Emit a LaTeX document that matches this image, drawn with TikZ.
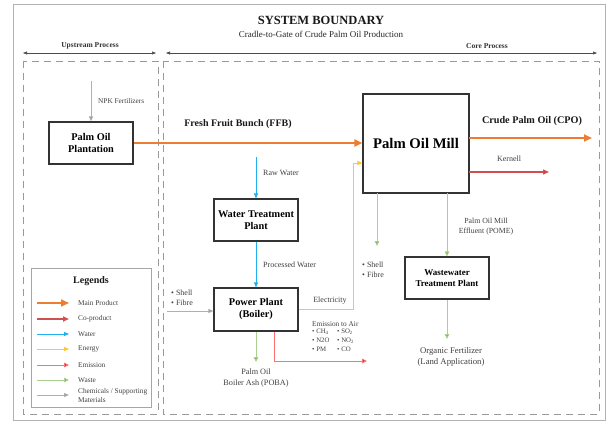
\documentclass[tikz,border=0pt]{standalone}
\usepackage{fontspec}
\setmainfont{Liberation Serif}
\usetikzlibrary{arrows.meta}
\definecolor{mainc}{HTML}{ED7D31}
\definecolor{coc}{HTML}{C00000}
\definecolor{coline}{HTML}{D05050}
\definecolor{waterc}{HTML}{1FB0F0}
\definecolor{energyc}{HTML}{FFC000}
\definecolor{energyl}{HTML}{FFC830}
\definecolor{emisc}{HTML}{FF0000}
\definecolor{emisl}{HTML}{FF7070}
\definecolor{wastec}{HTML}{70AD47}
\definecolor{wastel}{HTML}{A9D18E}
\definecolor{chemc}{HTML}{808080}
\definecolor{cheml}{HTML}{B0B0B0}
\definecolor{boxc}{HTML}{333333}
\definecolor{txtc}{HTML}{404040}
\tikzset{
  procbox/.style={draw=boxc, line width=1.1pt, rectangle, align=center, font=\bfseries\fontsize{10.3}{12}\selectfont, text=black, inner sep=0pt},
  lbl/.style={font=\fontsize{8}{9.5}\selectfont, text=txtc, inner sep=0pt, align=center},
  leglbl/.style={font=\fontsize{7.3}{8.5}\selectfont, text=txtc, inner sep=0pt, anchor=west, align=left},
  mainarr/.style={draw=mainc, line width=2.2pt, -{Triangle[length=8pt,width=7pt,fill=mainc]}},
  coarr/.style={draw=coline, line width=1.3pt, -{Triangle[length=6pt,width=5pt,fill=coc]}},
  waterarr/.style={draw=waterc, line width=0.8pt, -{Triangle[length=5pt,width=4pt]}},
  energyarr/.style={draw=energyl, line width=1pt, -{Triangle[length=5pt,width=4pt,fill=energyc]}},
  emisarr/.style={draw=emisl, line width=0.9pt, -{Triangle[length=5pt,width=4.5pt,fill=emisc]}},
  wastearr/.style={draw=wastel, line width=0.9pt, -{Triangle[length=5pt,width=4.5pt,fill=wastec]}},
  chemarr/.style={draw=cheml, line width=0.9pt, -{Triangle[length=5pt,width=4pt,fill=chemc]}},
  boundary/.style={draw=gray!80, line width=0.8pt, dash pattern=on 7pt off 5pt},
  scopearr/.style={draw=black!70, line width=0.6pt, {Triangle[length=4pt,width=3pt]}-{Triangle[length=4pt,width=3pt]}}
}
\begin{document}
\begin{tikzpicture}[x=1pt,y=-1pt]
\useasboundingbox (0,0) rectangle (612,422);
\fill[white] (0,0) rectangle (612,422);
\draw[gray!60, line width=1pt] (13,5) rectangle (605,420);

% titles
\node[font=\bfseries\fontsize{12.5}{14}\selectfont, text=black!90] (title) at (321,20) {SYSTEM BOUNDARY};
\node[font=\fontsize{9}{11}\selectfont, text=black!85] (subtitle) at (321,34) {Cradle-to-Gate of Crude Palm Oil Production};

% scope arrows
\coordinate (ua) at (23,53); \coordinate (ub) at (156,53);
\coordinate (ca) at (166,53); \coordinate (cb) at (597,53);
\draw[scopearr] (ua) -- (ub);
\draw[scopearr] (ca) -- (cb);
\node[font=\bfseries\fontsize{7.5}{9}\selectfont, text=black!80] (upl) at (90,46) {Upstream Process};
\node[font=\bfseries\fontsize{7.5}{9}\selectfont, text=black!80] (col) at (487,46) {Core Process};

% boundaries
\draw[boundary] (23,61) rectangle (158,414);
\draw[boundary] (163,61) rectangle (599,414);

% process boxes
\node[procbox, minimum width=84pt, minimum height=42pt] (plant) at (91,143) {Palm Oil\\Plantation};
\node[procbox, minimum width=106pt, minimum height=99pt, font=\bfseries\fontsize{14.7}{17}\selectfont] (mill) at (416,143.5) {Palm Oil Mill};
\node[procbox, minimum width=84pt, minimum height=42pt] (wtp) at (256,220) {Water Treatment\\Plant};
\node[procbox, minimum width=84pt, minimum height=43pt] (pp) at (256,309.5) {Power Plant\\(Boiler)};
\node[procbox, minimum width=84pt, minimum height=42pt, font=\bfseries\fontsize{9}{11}\selectfont] (wwtp) at (447,278) {Wastewater\\Treatment Plant};

% NPK
\coordinate (npk) at (91,81);
\draw[chemarr] (npk) -- (plant.north);
\node[lbl, anchor=west, font=\fontsize{7.3}{8.5}\selectfont] (npkl) at (98,101) {NPK Fertilizers};

% FFB
\draw[mainarr] (plant.east) -- (mill.west |- plant.east);
\node[font=\bfseries\fontsize{10}{12}\selectfont, text=black!90] (ffbl) at (238,124) {Fresh Fruit Bunch (FFB)};

% CPO
\coordinate (cpos) at (469,138); \coordinate (cpoe) at (592,138);
\draw[mainarr] (cpos) -- (cpoe);
\node[font=\bfseries\fontsize{10.2}{12}\selectfont, text=black!90] (cpol) at (532,121) {Crude Palm Oil (CPO)};

% Kernell
\coordinate (kers) at (469,172); \coordinate (kere) at (549,172);
\draw[coarr] (kers) -- (kere);
\node[lbl] (kerl) at (509,159) {Kernell};

% water
\coordinate (rw) at (256,157);
\draw[waterarr] (rw) -- (wtp.north);
\node[lbl, anchor=west] (rwl) at (263,173) {Raw Water};
\draw[waterarr] (wtp.south) -- (pp.north);
\node[lbl, anchor=west] (pwl) at (263,265) {Processed Water};

% electricity
\coordinate (el1) at (353,309); \coordinate (el2) at (353,163);
\draw[energyarr] (pp.east |- el1) -- (el1) -- (el2) -- (mill.west |- el2);
\node[lbl] (ell) at (330,301) {Electricity};

% shell fibre to power plant
\coordinate (sf) at (167,311);
\draw[chemarr] (sf) -- (pp.west |- sf);
\node[lbl, anchor=west, align=left] (sfl) at (171,298) {• Shell\\• Fibre};

% POBA
\coordinate (poba) at (256,362);
\draw[wastearr] (pp.south) -- (poba);
\node[lbl, font=\fontsize{8.2}{10.5}\selectfont] (pobal) at (256,378) {Palm Oil\\Boiler Ash (POBA)};

% emission
\coordinate (em1) at (274,361); \coordinate (em2) at (367,361);
\draw[emisarr] (pp.south -| em1) -- (em1) -- (em2);
\node[lbl, anchor=west, font=\fontsize{7.3}{8}\selectfont] (eml) at (312,324) {Emission to Air};
\node[lbl, anchor=north west, align=left, font=\fontsize{6.8}{9}\selectfont] (em1l) at (312,329) {• CH\textsubscript{4}\\• N2O\\• PM};
\node[lbl, anchor=north west, align=left, font=\fontsize{6.8}{9}\selectfont] (em2l) at (337,329) {• SO\textsubscript{2}\\• NO\textsubscript{2}\\• CO};

% mill shell fibre
\coordinate (ms1) at (377,193); \coordinate (ms2) at (377,246);
\draw[wastearr] (ms1) -- (ms2);
\node[lbl, anchor=west, align=left] (msl) at (362,270) {• Shell\\• Fibre};

% POME
\coordinate (pm1) at (447,193);
\draw[wastearr] (pm1) -- (wwtp.north);
\node[lbl, font=\fontsize{7.8}{10}\selectfont] (pomel) at (486,227) {Palm Oil Mill\\Effluent (POME)};

% organic fertilizer
\coordinate (of) at (447,339);
\draw[wastearr] (wwtp.south) -- (of);
\node[lbl, font=\fontsize{8.7}{11}\selectfont] (ofl) at (451,357) {Organic Fertilizer\\(Land Application)};

% legend
\node[draw=gray!70, line width=0.8pt, minimum width=120pt, minimum height=139pt, inner sep=0pt] (legend) at (91,337.5) {};
\node[font=\bfseries\fontsize{10}{12}\selectfont, text=black!90] (legt) at (91,281) {Legends};
\foreach \y [count=\i] in {303,319,334,349,365,380,395}{
  \coordinate (l\i a) at (37,\y); \coordinate (l\i b) at (69,\y);
}
\draw[mainarr, line width=1.8pt] (l1a) -- (l1b);
\draw[coarr, line width=1.5pt] (l2a) -- (l2b);
\draw[waterarr] (l3a) -- (l3b);
\draw[energyarr] (l4a) -- (l4b);
\draw[emisarr] (l5a) -- (l5b);
\draw[wastearr] (l6a) -- (l6b);
\draw[chemarr] (l7a) -- (l7b);
\node[leglbl] (lt1) at (78,303) {Main Product};
\node[leglbl] (lt2) at (78,319) {Co-product};
\node[leglbl] (lt3) at (78,334) {Water};
\node[leglbl] (lt4) at (78,349) {Energy};
\node[leglbl] (lt5) at (78,365) {Emission};
\node[leglbl] (lt6) at (78,380) {Waste};
\node[leglbl] (lt7) at (78,395.5) {Chemicals / Supporting\\Materials};
\end{tikzpicture}
\end{document}
